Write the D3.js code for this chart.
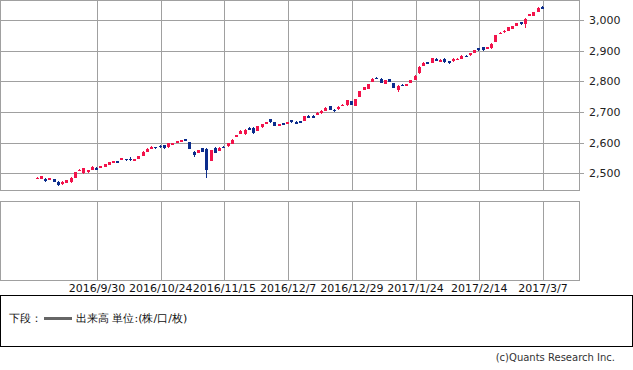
<!DOCTYPE html>
<html>
<head>
<meta charset="utf-8">
<script src="https://cdn.jsdelivr.net/npm/d3@7"></script>
<style>
  body { margin: 0; background: #fff; }
  text { font-family: "DejaVu Sans", sans-serif; }
</style>
</head>
<body>
<div id="chart"></div>
<script>
////////////////////////////////////
////////////// data ////////////////
////////////////////////////////////

// daily candles, 2016/9/8 .. 2017/3/7 (one entry per trading day)
const opens = [
  2482, 2483, 2482, 2479, 2481, 2473, 2464, 2470, 2472, 2486,
  2509, 2500, 2503, 2511, 2516, 2518, 2522, 2528, 2534, 2540,
  2544, 2547, 2548, 2541, 2547, 2557, 2570, 2580, 2586, 2590,
  2591, 2585, 2593, 2599, 2605, 2611, 2602, 2571, 2566, 2582,
  2580, 2541, 2584, 2574, 2587, 2588, 2596, 2618, 2628, 2629,
  2649, 2649, 2639, 2650, 2661, 2677, 2666, 2656, 2663, 2662,
  2674, 2668, 2670, 2670, 2688, 2688, 2691, 2696, 2703, 2719,
  2708, 2709, 2720, 2722, 2736, 2721, 2750, 2772, 2776, 2799,
  2811, 2809, 2792, 2808, 2795, 2772, 2789, 2786, 2796, 2804,
  2826, 2850, 2863, 2861, 2872, 2864, 2874, 2866, 2865, 2870,
  2873, 2884, 2885, 2893, 2908, 2911, 2908, 2909, 2929, 2954,
  2960, 2964, 2971, 2981, 2993, 2987, 3013, 3013, 3027, 3043
]
const highs = [
  2488, 2492, 2484, 2486, 2482, 2474, 2474, 2479, 2487, 2504,
  2515, 2518, 2512, 2523, 2519, 2524, 2530, 2537, 2541, 2541,
  2551, 2548, 2552, 2548, 2558, 2572, 2581, 2588, 2587, 2592,
  2592, 2599, 2600, 2606, 2610, 2613, 2603, 2572, 2577, 2583,
  2581, 2576, 2585, 2585, 2590, 2600, 2611, 2626, 2640, 2643,
  2650, 2650, 2655, 2662, 2668, 2678, 2667, 2661, 2665, 2668,
  2675, 2669, 2671, 2688, 2689, 2689, 2699, 2705, 2715, 2720,
  2709, 2718, 2725, 2740, 2737, 2742, 2769, 2782, 2792, 2810,
  2813, 2810, 2804, 2809, 2796, 2787, 2790, 2791, 2805, 2819,
  2849, 2862, 2864, 2876, 2875, 2872, 2875, 2867, 2875, 2875,
  2885, 2885, 2892, 2903, 2909, 2912, 2912, 2924, 2951, 2960,
  2966, 2978, 2982, 2990, 2994, 3005, 3020, 3027, 3041, 3045
]
const lows = [
  2480, 2482, 2473, 2478, 2472, 2458, 2462, 2468, 2470, 2485,
  2507, 2497, 2500, 2510, 2510, 2517, 2521, 2527, 2533, 2535,
  2543, 2541, 2539, 2540, 2546, 2556, 2569, 2579, 2580, 2583,
  2579, 2584, 2591, 2598, 2604, 2604, 2578, 2553, 2565, 2570,
  2486, 2540, 2566, 2573, 2582, 2587, 2595, 2617, 2627, 2625,
  2640, 2628, 2637, 2649, 2660, 2665, 2653, 2655, 2659, 2661,
  2665, 2660, 2666, 2669, 2680, 2680, 2690, 2695, 2702, 2706,
  2700, 2708, 2719, 2721, 2723, 2720, 2749, 2771, 2775, 2798,
  2808, 2793, 2791, 2797, 2778, 2764, 2785, 2785, 2795, 2803,
  2825, 2849, 2856, 2860, 2867, 2863, 2861, 2857, 2864, 2869,
  2872, 2879, 2884, 2892, 2900, 2899, 2907, 2905, 2928, 2953,
  2959, 2963, 2970, 2980, 2985, 2975, 3012, 3012, 3026, 3035
]
const closes = [
  2485, 2491, 2475, 2485, 2473, 2462, 2473, 2478, 2486, 2503,
  2512, 2516, 2511, 2522, 2512, 2523, 2529, 2536, 2540, 2537,
  2550, 2542, 2544, 2547, 2557, 2571, 2580, 2587, 2581, 2585,
  2581, 2598, 2598, 2605, 2608, 2605, 2580, 2559, 2576, 2571,
  2511, 2575, 2567, 2584, 2584, 2599, 2610, 2625, 2639, 2641,
  2641, 2632, 2654, 2661, 2667, 2666, 2655, 2660, 2661, 2667,
  2666, 2662, 2668, 2687, 2681, 2681, 2698, 2704, 2714, 2707,
  2702, 2717, 2724, 2739, 2724, 2741, 2768, 2781, 2791, 2809,
  2809, 2794, 2803, 2798, 2779, 2786, 2786, 2790, 2804, 2818,
  2848, 2861, 2858, 2875, 2868, 2871, 2862, 2860, 2874, 2874,
  2884, 2880, 2891, 2902, 2901, 2901, 2911, 2923, 2950, 2959,
  2965, 2977, 2981, 2989, 2986, 3004, 3019, 3026, 3040, 3037
]

// x axis labels and the candle (trading day) they sit on
const tickLabels = ['2016/9/30', '2016/10/24', '2016/11/15', '2016/12/7', '2016/12/29', '2017/1/24', '2017/2/14', '2017/3/7']
const tickIndex = [14, 29, 44, 59, 74, 89, 104, 119]

const priceTicks = [2500, 2600, 2700, 2800, 2900, 3000]

const legendPrefix = '下段：'
const legendLabel = '出来高 単位:(株/口/枚)'
const credit = '(c)Quants Research Inc.'

////////////////////////////////////
//////////// SVG Setup /////////////
////////////////////////////////////

const svgWidth = 633
const svgHeight = 370

const plot = { left: 0, right: 579, top: 0, bottom: 190 }
const vol = { top: 201, bottom: 280 }

const svg = d3.select('#chart')
  .append('svg')
  .attr('width', svgWidth)
  .attr('height', svgHeight)

////////////////////////////////////
//////////////globals///////////////
////////////////////////////////////

const upColor = '#f2134b'
const downColor = '#0b2c8c'
const gridColor = '#a0a0a0'
const bodyWidth = 4

////////////////////////////////////
//////////////scales////////////////
////////////////////////////////////

const data = opens.map((o, i) => ({ i, o, h: highs[i], l: lows[i], c: closes[i] }))

const xScale = d3.scaleLinear()
  .domain([-8.84, 127.48])
  .range([plot.left, plot.right])

const yScale = d3.scaleLinear()
  .domain([2445.6, 3065.2])
  .range([plot.bottom, plot.top])

const crisp = v => Math.round(v) + 0.5

////////////////////////////////////
///////////// grid /////////////////
////////////////////////////////////

// upper panel grid
svg.append('g')
  .selectAll('line')
  .data(priceTicks)
  .join('line')
  .attr('x1', plot.left)
  .attr('x2', plot.right + 5)
  .attr('y1', d => crisp(yScale(d)))
  .attr('y2', d => crisp(yScale(d)))
  .attr('stroke', gridColor)

svg.append('g')
  .selectAll('line')
  .data(tickIndex)
  .join('line')
  .attr('x1', d => crisp(xScale(d)))
  .attr('x2', d => crisp(xScale(d)))
  .attr('y1', plot.top)
  .attr('y2', plot.bottom)
  .attr('stroke', gridColor)

svg.append('rect')
  .attr('x', plot.left + 0.5)
  .attr('y', plot.top + 0.5)
  .attr('width', plot.right - plot.left)
  .attr('height', plot.bottom - plot.top)
  .attr('fill', 'none')
  .attr('stroke', gridColor)

// lower (volume) panel, empty
svg.append('g')
  .selectAll('line')
  .data(tickIndex)
  .join('line')
  .attr('x1', d => crisp(xScale(d)))
  .attr('x2', d => crisp(xScale(d)))
  .attr('y1', vol.top)
  .attr('y2', vol.bottom)
  .attr('stroke', gridColor)

svg.append('rect')
  .attr('x', plot.left + 0.5)
  .attr('y', vol.top + 0.5)
  .attr('width', plot.right - plot.left)
  .attr('height', vol.bottom - vol.top)
  .attr('fill', 'none')
  .attr('stroke', gridColor)

////////////////////////////////////
///////////////axis/////////////////
////////////////////////////////////

svg.append('g')
  .selectAll('text')
  .data(priceTicks)
  .join('text')
  .attr('x', plot.right + 10)
  .attr('y', d => yScale(d))
  .attr('dy', '0.35em')
  .attr('font-size', 11)
  .attr('fill', '#222')
  .text(d => d3.format(',')(d))

svg.append('g')
  .selectAll('text')
  .data(tickIndex)
  .join('text')
  .attr('x', d => xScale(d))
  .attr('y', 292)
  .attr('text-anchor', 'middle')
  .attr('font-size', 11)
  .attr('fill', '#111')
  .text((d, k) => tickLabels[k])

////////////////////////////////////
////////////// candles /////////////
////////////////////////////////////

const candles = svg.append('g')
  .selectAll('g')
  .data(data)
  .join('g')
  .attr('fill', d => d.c >= d.o ? upColor : downColor)
  .attr('shape-rendering', 'crispEdges')

// wick
candles.append('rect')
  .attr('x', d => Math.round(xScale(d.i)) - 1)
  .attr('width', 1)
  .attr('y', d => yScale(d.h))
  .attr('height', d => yScale(d.l) - yScale(d.h))

// body
candles.append('rect')
  .attr('x', d => Math.round(xScale(d.i)) - 2)
  .attr('width', bodyWidth - 1)
  .attr('y', d => yScale(Math.max(d.o, d.c)))
  .attr('height', d => Math.max(1.5, yScale(Math.min(d.o, d.c)) - yScale(Math.max(d.o, d.c))))

////////////////////////////////////
////////////// legend //////////////
////////////////////////////////////

svg.append('rect')
  .attr('x', 0.5)
  .attr('y', 295.5)
  .attr('width', 632)
  .attr('height', 51)
  .attr('fill', 'none')
  .attr('stroke', '#000')

const legend = svg.append('g')
  .attr('font-size', 11)
  .attr('fill', '#111')

legend.append('text')
  .attr('x', 9)
  .attr('y', 322)
  .attr('font-family', '"Noto Sans CJK JP", sans-serif')
  .text(legendPrefix)

legend.append('line')
  .attr('x1', 44)
  .attr('x2', 72)
  .attr('y1', 318.5)
  .attr('y2', 318.5)
  .attr('stroke', '#666')
  .attr('stroke-width', 3)

legend.append('text')
  .attr('x', 76)
  .attr('y', 322)
  .attr('font-family', '"Noto Sans CJK JP", sans-serif')
  .text(legendLabel)

svg.append('text')
  .attr('x', 615)
  .attr('y', 361)
  .attr('text-anchor', 'end')
  .attr('font-size', 10)
  .attr('fill', '#333')
  .text(credit)
</script>
</body>
</html>
